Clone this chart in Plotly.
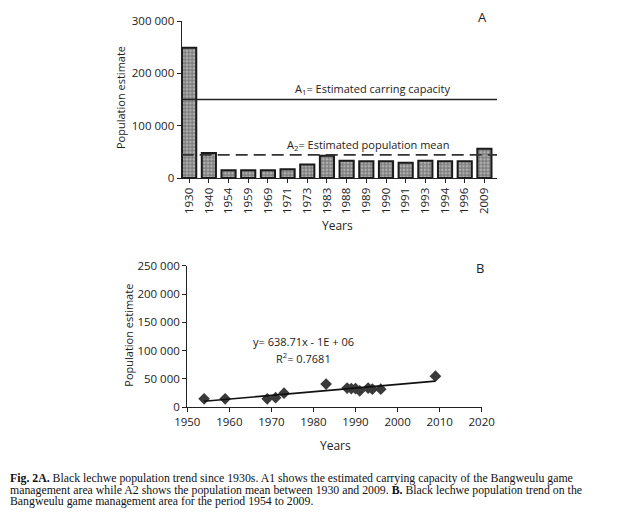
import numpy as np
import plotly.graph_objects as go

# ---- Data ----
years_a = ["1930", "1940", "1954", "1959", "1969", "1971", "1973", "1983",
           "1988", "1989", "1990", "1991", "1993", "1994", "1996", "2009"]
pop_a = [249000, 48000, 15000, 15000, 15000, 16500, 26000, 42500,
         33000, 32000, 32000, 29000, 33000, 32000, 32000, 56000]
carrying_capacity = 150000

years_b = [1954, 1959, 1969, 1971, 1973, 1983, 1988, 1989, 1990, 1991, 1993, 1994, 1996, 2009]
pop_b = [15000, 15000, 15000, 17000, 25000, 41000, 34000, 33000, 33000, 29000, 34000, 32000, 32000, 55000]

ytick_a = [0, 100000, 200000, 300000]
ytick_a_text = ["0", "100 000", "200 000", "300 000"]
ytick_b = [0, 50000, 100000, 150000, 200000, 250000]
ytick_b_text = ["0", "50 000", "100 000", "150 000", "200 000", "250 000"]
xtick_b = [1950, 1960, 1970, 1980, 1990, 2000, 2010, 2020]

# page body has an 8px margin: figure is placed at (8, 8) in the window
OFF = 8
W, H = 620 - OFF, 516 - OFF
def px(x):
    return (x - OFF) / W
def py(y):
    return 1 - (y - OFF) / H

FONT = "Open Sans"
mean_a = float(np.mean(pop_a))
n = len(years_a)
xa = list(range(n))

fig = go.Figure()

# Chart A bars
fig.add_trace(go.Bar(
    x=xa, y=pop_a, width=0.72,
    marker=dict(color="#8a8a8a", line=dict(color="#1a1a1a", width=2),
                pattern=dict(shape=".", fgcolor="#e8e8e8", bgcolor="#7c7c7c", size=3.5, solidity=0.45)),
    xaxis="x", yaxis="y", showlegend=False, hoverinfo="skip"))

# Carrying capacity line
fig.add_trace(go.Scatter(
    x=[-0.38, n - 0.36], y=[carrying_capacity, carrying_capacity], mode="lines",
    line=dict(color="#222222", width=1.6), xaxis="x", yaxis="y", showlegend=False))
# Mean line
fig.add_trace(go.Scatter(
    x=[-0.38, n - 0.36], y=[mean_a, mean_a], mode="lines",
    line=dict(color="#333333", width=1.6, dash="12px,6px"), xaxis="x", yaxis="y", showlegend=False))

# Chart B points
fig.add_trace(go.Scatter(
    x=years_b, y=pop_b, mode="markers",
    marker=dict(symbol="diamond", size=9, color="#3a3a3a"),
    xaxis="x2", yaxis="y2", showlegend=False))
slope, intercept = np.polyfit(years_b, pop_b, 1)
xl = np.array([min(years_b), max(years_b)])
fig.add_trace(go.Scatter(
    x=xl, y=slope * xl + intercept, mode="lines",
    line=dict(color="#111111", width=1.6), xaxis="x2", yaxis="y2", showlegend=False))

axis_common = dict(showline=True, linecolor="#222222", linewidth=1.3, ticks="outside",
                   ticklen=4, tickwidth=1.1, tickcolor="#222222", showgrid=False, zeroline=False,
                   automargin=False,
                   tickfont=dict(family=FONT, size=11.5, color="#222222"))

fig.update_layout(
    width=W, height=H, margin=dict(l=0, r=0, t=0, b=0, pad=0, autoexpand=False),
    paper_bgcolor="white", plot_bgcolor="white", bargap=0.28,
    xaxis=dict(domain=[px(181.7), px(497)], range=[-0.38, n - 0.36], anchor="y",
               tickmode="array", tickvals=xa, ticktext=years_a, tickangle=-90, **axis_common),
    yaxis=dict(domain=[py(178), py(21)], range=[0, 300000], anchor="x",
               tickmode="array", tickvals=ytick_a, ticktext=ytick_a_text, **axis_common),
    xaxis2=dict(domain=[px(187.3), px(481.7)], range=[1950, 2020], anchor="y2",
                tickmode="array", tickvals=xtick_b, **axis_common),
    yaxis2=dict(domain=[py(407.3), py(265.7)], range=[0, 250000], anchor="x2",
                tickmode="array", tickvals=ytick_b, ticktext=ytick_b_text, **axis_common),
)

def ann(x, y, text, size=12, angle=0, family=FONT, xanchor="center", color="#222222"):
    fig.add_annotation(x=px(x), y=py(y), xref="paper", yref="paper", text=text,
                       showarrow=False, textangle=angle, xanchor=xanchor, yanchor="middle",
                       font=dict(family=family, size=size, color=color))

ann(482, 17.5, "A", size=13)
ann(372, 89, "A<sub>1</sub>= Estimated carring capacity", size=11)
ann(368, 145, "A<sub>2</sub>= Estimated population mean", size=11)
ann(120, 97, "Population estimate", size=11, angle=-90)
ann(337, 225, "Years", size=12)

ann(480, 268, "B", size=13)
ann(303, 341.5, "y= 638.71x - 1E + 06", size=11)
ann(303, 357.5, "R<sup>2</sup>= 0.7681", size=11)
ann(127.7, 335, "Population estimate", size=11, angle=-90)
ann(335, 445, "Years", size=12)

SERIF = "Liberation Serif"
ann(8, 478, "<b>Fig. 2A.</b> Black lechwe population trend since 1930s. A1 shows the estimated carrying capacity of the Bangweulu game",
    size=11.8, family=SERIF, xanchor="left", color="#111111")
ann(8, 489.5, "management area while A2 shows the population mean between 1930 and 2009. <b>B.</b> Black lechwe population trend on the",
    size=11.8, family=SERIF, xanchor="left", color="#111111")
ann(8, 501, "Bangweulu game management area for the period 1954 to 2009.",
    size=11.8, family=SERIF, xanchor="left", color="#111111")

fig.write_html("out.html")
